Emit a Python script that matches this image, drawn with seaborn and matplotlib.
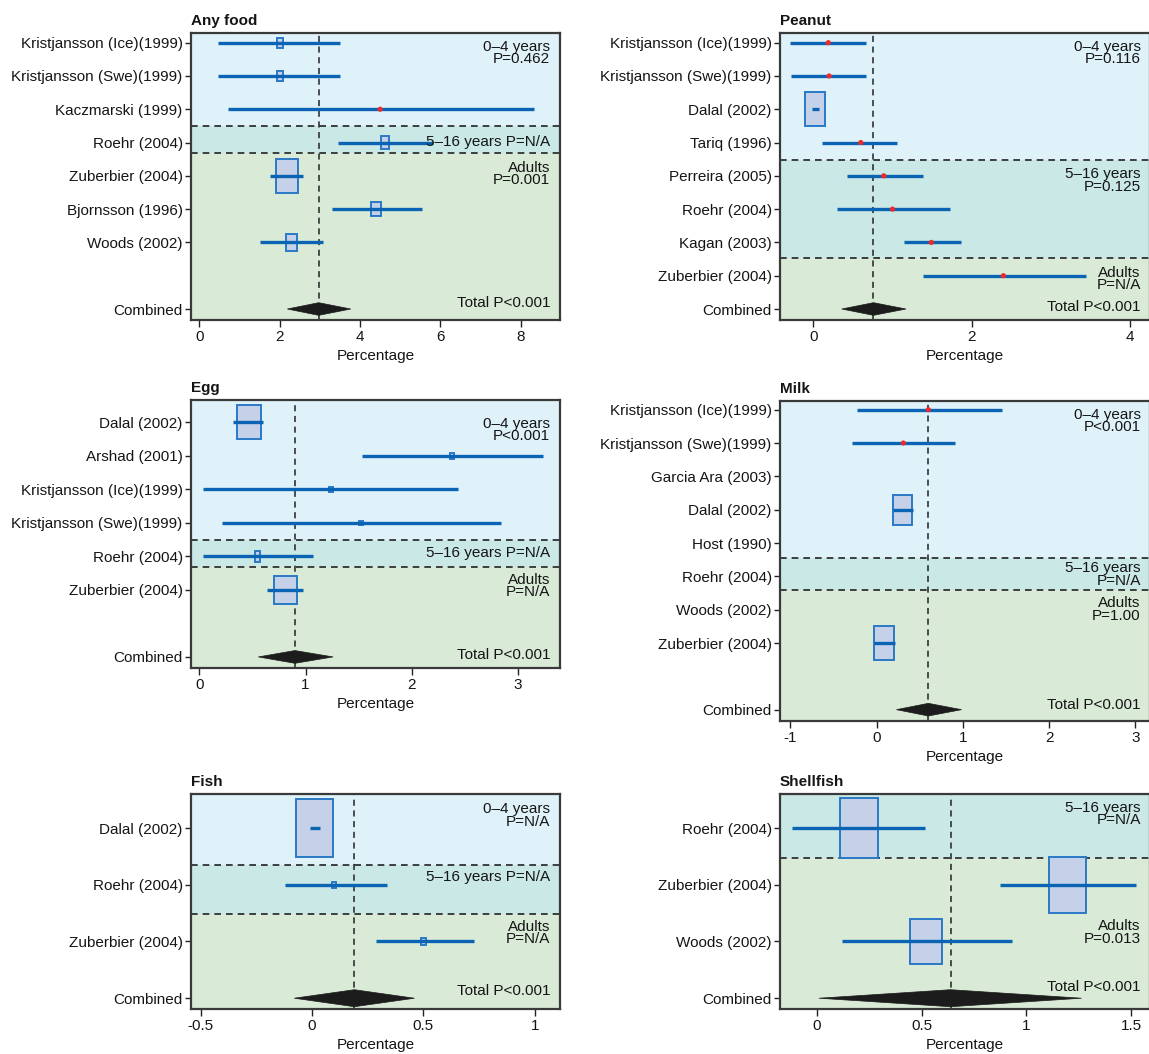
import numpy as np
import matplotlib
matplotlib.use("Agg")
import matplotlib.pyplot as plt
from matplotlib.patches import Rectangle, Polygon
import matplotlib.transforms as mtransforms
import seaborn as sns

sns.set_theme(style="ticks")
plt.rcParams['font.family'] = ['Liberation Sans Narrow', 'Liberation Sans', 'DejaVu Sans']
plt.rcParams['axes.unicode_minus'] = False
for key in ("text.color", "axes.labelcolor", "xtick.color", "ytick.color"):
    plt.rcParams[key] = "#151515"

nan = np.nan

# ---------------- Any food ----------------
anyfood_studies = ["Kristjansson (Ice)(1999)", "Kristjansson (Swe)(1999)", "Kaczmarski (1999)",
                   "Roehr (2004)", "Zuberbier (2004)", "Bjornsson (1996)", "Woods (2002)"]
anyfood_est = [2.0, 2.0, 4.5, 4.63, 2.18, 4.4, 2.3]
anyfood_lo = [0.47, 0.47, 0.71, 3.46, 1.76, 3.30, 1.50]
anyfood_hi = [3.50, 3.50, 8.33, 5.81, 2.58, 5.54, 3.08]
anyfood_wt_w = [0.14, 0.14, nan, 0.20, 0.56, 0.23, 0.27]
anyfood_wt_h = [0.30, 0.30, nan, 0.39, 1.02, 0.40, 0.50]
anyfood_comb = [2.97, 2.19, 3.77]
anyfood_ticks = [0, 2, 4, 6, 8]
anyfood_notes = ["0\u20134 years\nP=0.462", "5\u201316 years P=N/A", "Adults\nP=0.001", "Total P<0.001"]

# ---------------- Peanut ----------------
peanut_studies = ["Kristjansson (Ice)(1999)", "Kristjansson (Swe)(1999)", "Dalal (2002)", "Tariq (1996)",
                  "Perreira (2005)", "Roehr (2004)", "Kagan (2003)", "Zuberbier (2004)"]
peanut_est = [0.19, 0.20, 0.025, 0.60, 0.89, 1.00, 1.49, 2.40]
peanut_lo = [-0.29, -0.28, -0.02, 0.11, 0.42, 0.30, 1.14, 1.38]
peanut_hi = [0.66, 0.66, 0.07, 1.06, 1.39, 1.72, 1.86, 3.44]
peanut_wt_w = [nan, nan, 0.25, nan, nan, nan, nan, nan]
peanut_wt_h = [nan, nan, 1.02, nan, nan, nan, nan, nan]
peanut_comb = [0.76, 0.36, 1.17]
peanut_ticks = [0, 2, 4]
peanut_notes = ["0\u20134 years\nP=0.116", "5\u201316 years\nP=0.125", "Adults\nP=N/A", "Total P<0.001"]

# ---------------- Egg ----------------
egg_studies = ["Dalal (2002)", "Arshad (2001)", "Kristjansson (Ice)(1999)", "Kristjansson (Swe)(1999)",
               "Roehr (2004)", "Zuberbier (2004)"]
egg_est = [0.465, 2.38, 1.24, 1.52, 0.545, 0.81]
egg_lo = [0.315, 1.53, 0.03, 0.21, 0.03, 0.64]
egg_hi = [0.60, 3.24, 2.44, 2.84, 1.07, 0.98]
egg_wt_w = [0.23, 0.035, 0.035, 0.035, 0.05, 0.215]
egg_wt_h = [1.03, 0.18, 0.14, 0.12, 0.32, 0.83]
egg_comb = [0.90, 0.555, 1.26]
egg_ticks = [0, 1, 2, 3]
egg_notes = ["0\u20134 years\nP<0.001", "5\u201316 years P=N/A", "Adults\nP=N/A", "Total P<0.001"]

# ---------------- Milk ----------------
milk_studies = ["Kristjansson (Ice)(1999)", "Kristjansson (Swe)(1999)", "Garcia Ara (2003)", "Dalal (2002)",
                "Host (1990)", "Roehr (2004)", "Woods (2002)", "Zuberbier (2004)"]
milk_est = [0.60, 0.31, nan, 0.30, nan, nan, nan, 0.09]
milk_lo = [-0.225, -0.29, nan, 0.19, nan, nan, nan, -0.025]
milk_hi = [1.45, 0.91, nan, 0.42, nan, nan, nan, 0.21]
milk_wt_w = [nan, nan, nan, 0.23, nan, nan, nan, 0.235]
milk_wt_h = [nan, nan, nan, 0.90, nan, nan, nan, 1.00]
milk_comb = [0.60, 0.23, 0.985]
milk_ticks = [-1, 0, 1, 2, 3]
milk_notes = ["0\u20134 years\nP<0.001", "5\u201316 years\nP=N/A", "Adults\nP=1.00", "Total P<0.001"]

# ---------------- Fish ----------------
fish_studies = ["Dalal (2002)", "Roehr (2004)", "Zuberbier (2004)"]
fish_est = [0.01, 0.10, 0.50]
fish_lo = [-0.01, -0.12, 0.285]
fish_hi = [0.035, 0.335, 0.727]
fish_wt_w = [0.165, 0.018, 0.025]
fish_wt_h = [1.03, 0.10, 0.12]
fish_comb = [0.19, -0.08, 0.46]
fish_ticks = [-0.5, 0, 0.5, 1]
fish_notes = ["0\u20134 years\nP=N/A", "5\u201316 years P=N/A", "Adults\nP=N/A", "Total P<0.001"]

# ---------------- Shellfish ----------------
shell_studies = ["Roehr (2004)", "Zuberbier (2004)", "Woods (2002)"]
shell_est = [0.20, 1.196, 0.52]
shell_lo = [-0.12, 0.875, 0.12]
shell_hi = [0.515, 1.523, 0.932]
shell_wt_w = [0.18, 0.177, 0.155]
shell_wt_h = [1.05, 0.99, 0.80]
shell_comb = [0.638, 0.01, 1.263]
shell_ticks = [0, 0.5, 1, 1.5]
shell_notes = ["5\u201316 years\nP=N/A", "Adults\nP=0.013", "Total P<0.001"]

# colours
C_KIDS = "#dff2fa"
C_TEEN = "#c9e8e6"
C_ADULT = "#d9ebd6"
C_LINE = "#0b63b3"
C_BOX = "#c5d0e9"
C_BOXEDGE = "#2a78c6"
C_DOT = "#ee2a2a"
C_FRAME = "#3a3a3a"

FS = 11

# layout: (left, top, right, bottom) in pixels, and row extents
W, H = 1149, 1054
panels = [
    dict(title="Any food", px=(191, 33, 560, 320), studies=anyfood_studies, est=anyfood_est,
         lo=anyfood_lo, hi=anyfood_hi, ww=anyfood_wt_w, wh=anyfood_wt_h, comb=anyfood_comb,
         comb_row=8, yl=(-0.29, 8.33), xl=(-0.21, 8.98), ticks=anyfood_ticks,
         bands=[(C_KIDS, 2.51), (C_TEEN, 3.31), (C_ADULT, None)], dh=0.19,
         notes=anyfood_notes, note_y=[0.32, 2.98, 3.94, 7.83]),
    dict(title="Peanut", px=(780, 33, 1150, 320), studies=peanut_studies, est=peanut_est,
         lo=peanut_lo, hi=peanut_hi, ww=peanut_wt_w, wh=peanut_wt_h, comb=peanut_comb,
         comb_row=8, yl=(-0.29, 8.33), xl=(-0.42, 4.25), ticks=peanut_ticks,
         bands=[(C_KIDS, 3.51), (C_TEEN, 6.48), (C_ADULT, None)], dh=0.19,
         notes=peanut_notes, note_y=[0.32, 4.14, 7.09, 7.93]),
    dict(title="Egg", px=(191, 400, 560, 668), studies=egg_studies, est=egg_est,
         lo=egg_lo, hi=egg_hi, ww=egg_wt_w, wh=egg_wt_h, comb=egg_comb,
         comb_row=7, yl=(-0.66, 7.33), xl=(-0.08, 3.40), ticks=egg_ticks,
         bands=[(C_KIDS, 3.5), (C_TEEN, 4.32), (C_ADULT, None)], dh=0.19,
         notes=egg_notes, note_y=[0.23, 3.89, 4.88, 6.93]),
    dict(title="Milk", px=(780, 401, 1150, 721), studies=milk_studies, est=milk_est,
         lo=milk_lo, hi=milk_hi, ww=milk_wt_w, wh=milk_wt_h, comb=milk_comb,
         comb_row=9, yl=(-0.26, 9.34), xl=(-1.12, 3.17), ticks=milk_ticks,
         bands=[(C_KIDS, 4.45), (C_TEEN, 5.42), (C_ADULT, None)], dh=0.19,
         notes=milk_notes, note_y=[0.34, 4.95, 5.99, 8.86]),
    dict(title="Fish", px=(191, 794, 560, 1009), studies=fish_studies, est=fish_est,
         lo=fish_lo, hi=fish_hi, ww=fish_wt_w, wh=fish_wt_h, comb=fish_comb,
         comb_row=3, yl=(-0.6, 3.19), xl=(-0.544, 1.114), ticks=fish_ticks,
         bands=[(C_KIDS, 0.66), (C_TEEN, 1.52), (C_ADULT, None)], dh=0.15,
         notes=fish_notes, note_y=[-0.22, 0.87, 1.85, 2.87]),
    dict(title="Shellfish", px=(780, 794, 1150, 1009), studies=shell_studies, est=shell_est,
         lo=shell_lo, hi=shell_hi, ww=shell_wt_w, wh=shell_wt_h, comb=shell_comb,
         comb_row=3, yl=(-0.6, 3.19), xl=(-0.176, 1.59), ticks=shell_ticks,
         bands=[(C_TEEN, 0.52), (C_ADULT, None)], dh=0.15,
         notes=shell_notes, note_y=[-0.25, 1.84, 2.80]),
]


def fmt_tick(v):
    return f"{v:g}"


fig = plt.figure(figsize=(W / 100, H / 100), dpi=100)
fig.patch.set_facecolor("white")

for p in panels:
    l, t, r, b = p["px"]
    ax = fig.add_axes([l / W, 1 - b / H, (r - l) / W, (b - t) / H])
    ax.set_facecolor("white")
    y_top, y_bot = p["yl"]
    ax.set_xlim(*p["xl"])
    ax.set_ylim(y_bot, y_top)

    # age-group bands and their dashed separators
    start = y_top
    for col, end in p["bands"]:
        stop = y_bot if end is None else end
        ax.axhspan(start, stop, color=col, lw=0, zorder=0)
        if end is not None:
            ax.axhline(end, color="#222222", lw=1.2, ls=(0, (4, 3)), zorder=1)
        start = stop

    # pooled estimate reference line
    c_est, c_lo, c_hi = p["comb"]
    ax.axvline(c_est, color="#222222", lw=1.1, ls=(0, (4, 3)), zorder=1)

    rows = np.arange(len(p["studies"]))
    est = np.array(p["est"], dtype=float)
    lo = np.array(p["lo"], dtype=float)
    hi = np.array(p["hi"], dtype=float)
    ww = np.array(p["ww"], dtype=float)
    wh = np.array(p["wh"], dtype=float)

    # weight boxes
    for i in rows:
        if np.isfinite(est[i]) and np.isfinite(ww[i]):
            ax.add_patch(Rectangle((est[i] - ww[i] / 2, i - wh[i] / 2), ww[i], wh[i],
                                   facecolor=C_BOX, edgecolor=C_BOXEDGE, lw=1.4, zorder=2))

    # confidence intervals
    ok = np.isfinite(est)
    ax.hlines(rows[ok], lo[ok], hi[ok], color=C_LINE, lw=2.4, zorder=3)

    # studies without a weight box shown as red points
    dots = ok & ~np.isfinite(ww)
    if dots.any():
        sns.scatterplot(x=est[dots], y=rows[dots], ax=ax, color=C_DOT, s=14,
                        edgecolor="none", zorder=4, legend=False)

    # pooled diamond
    cr = p["comb_row"]
    dh = p["dh"]
    ax.add_patch(Polygon([(c_lo, cr), (c_est, cr - dh), (c_hi, cr), (c_est, cr + dh)],
                         closed=True, facecolor="#1c1c1c", edgecolor="#1c1c1c", lw=0.5, zorder=4))

    ax.set_yticks(list(rows) + [cr])
    ax.set_yticklabels(p["studies"] + ["Combined"], fontsize=FS)
    ax.set_xticks(p["ticks"])
    ax.set_xticklabels([fmt_tick(v) for v in p["ticks"]], fontsize=FS)
    ax.set_xlabel("Percentage", fontsize=FS, labelpad=4)
    ax.set_ylabel("")
    ax.tick_params(axis="y", length=4, width=1.0, color="#222222", pad=2)
    ax.tick_params(axis="x", length=5, width=1.0, color="#222222", pad=2)
    for s in ax.spines.values():
        s.set_color(C_FRAME)
        s.set_linewidth(1.6)
    ax.set_title(p["title"], loc="left", fontsize=FS, fontweight="bold", pad=6)

    trans = mtransforms.blended_transform_factory(ax.transAxes, ax.transData)
    xr = 0.973 if r < 1000 else 0.975
    for txt, yy in zip(p["notes"], p["note_y"]):
        ax.text(xr, yy, txt, transform=trans, ha="right", va="center", fontsize=FS,
                linespacing=0.85, zorder=5)

fig.savefig("out.png", dpi=100)
